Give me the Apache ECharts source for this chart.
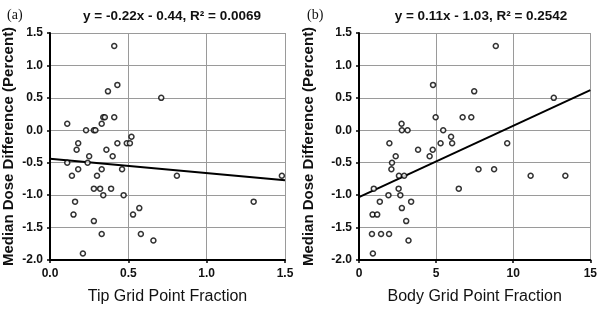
<!DOCTYPE html>
<html>
<head>
<meta charset="utf-8">
<script src="https://cdn.jsdelivr.net/npm/echarts@6/dist/echarts.min.js"></script>
<style>
  html, body { margin: 0; padding: 0; background: #fff; }
  #chart { width: 600px; height: 310px; }
</style>
</head>
<body>
<div id="chart"></div>
<script>
// median dose difference (percent), shared by both panels
var tipX = [0.41, 0.43, 0.37, 0.71, 0.34, 0.35, 0.41, 0.33, 0.11, 0.23, 0.28, 0.29,
            0.52, 0.18, 0.43, 0.49, 0.51, 0.17, 0.36, 0.25, 0.40, 0.11, 0.24, 0.14,
            0.18, 0.33, 0.46, 0.30, 0.81, 1.48, 0.28, 0.32, 0.39, 0.34, 0.47, 0.16,
            1.30, 0.57, 0.15, 0.53, 0.28, 0.33, 0.58, 0.66, 0.21];
var tipY = [1.3, 0.7, 0.6, 0.5, 0.2, 0.2, 0.2, 0.1, 0.1, 0.0, 0.0, 0.0,
            -0.1, -0.2, -0.2, -0.2, -0.2, -0.3, -0.3, -0.4, -0.4, -0.5, -0.5, -0.7,
            -0.6, -0.6, -0.6, -0.7, -0.7, -0.7, -0.9, -0.9, -0.9, -1.0, -1.0, -1.1,
            -1.1, -1.2, -1.3, -1.3, -1.4, -1.6, -1.6, -1.7, -1.9];

var bodyX = [8.87, 4.80, 7.47, 12.63, 4.97, 6.72, 7.28, 2.76, 2.78, 3.15, 5.46, 5.97,
             1.97, 5.29, 6.04, 9.61, 3.83, 4.78, 2.38, 4.58, 2.14, 2.10, 7.75, 8.76,
             2.59, 2.93, 11.13, 13.38, 0.96, 2.57, 6.47, 1.91, 2.68, 1.35, 3.38, 2.78,
             0.88, 1.18, 3.06, 0.84, 1.43, 1.95, 3.21, 0.90];
var bodyY = [1.3, 0.7, 0.6, 0.5, 0.2, 0.2, 0.2, 0.1, 0.0, 0.0, 0.0, -0.1,
             -0.2, -0.2, -0.2, -0.2, -0.3, -0.3, -0.4, -0.4, -0.5, -0.6, -0.6, -0.6,
             -0.7, -0.7, -0.7, -0.7, -0.9, -0.9, -0.9, -1.0, -1.0, -1.1, -1.1, -1.2,
             -1.3, -1.3, -1.4, -1.6, -1.6, -1.6, -1.7, -1.9];

// linear fits as printed on the figure
var tipFit = { slope: -0.22, intercept: -0.44, xMax: 1.5 };
var bodyFit = { slope: 0.11, intercept: -1.03, xMax: 15 };

var titles = ['y = -0.22x - 0.44, R\u00b2 = 0.0069', 'y = 0.11x - 1.03, R\u00b2 = 0.2542'];
var panelTags = ['(a)', '(b)'];
var xNames = ['Tip Grid Point Fraction', 'Body Grid Point Fraction'];
var yName = 'Median Dose Difference (Percent)';

function pairs(xs, ys) {
  var out = [];
  for (var i = 0; i < xs.length; i++) out.push([xs[i], ys[i]]);
  return out;
}
function fitLine(f) {
  return [[0, f.intercept], [f.xMax, f.intercept + f.slope * f.xMax]];
}

var font = 'Liberation Sans, Arial, sans-serif';
var gridLine = { show: true, lineStyle: { color: '#9a9a9a', width: 1, type: 'solid' } };

function xAx(idx, max, interval, fmt) {
  return {
    type: 'value', gridIndex: idx, min: 0, max: max, interval: interval,
    name: xNames[idx], nameLocation: 'middle', nameGap: 29,
    nameTextStyle: { fontFamily: font, fontSize: 16, color: '#111' },
    axisLine: { show: true, onZero: false, lineStyle: { color: '#000', width: 2 } },
    axisTick: { show: true, length: 3, lineStyle: { color: '#000', width: 1.5 } },
    axisLabel: { fontFamily: font, fontSize: 12, fontWeight: 'bold', color: '#111', margin: 8,
                 formatter: fmt },
    splitLine: gridLine
  };
}
function yAx(idx, gap) {
  return {
    type: 'value', gridIndex: idx, min: -2, max: 1.5, interval: 0.5,
    name: yName, nameLocation: 'middle', nameGap: gap,
    nameTextStyle: { fontFamily: font, fontSize: 15, fontWeight: 'bold', color: '#111' },
    axisLine: { show: true, onZero: false, lineStyle: { color: '#000', width: 2 } },
    axisTick: { show: true, length: 3, lineStyle: { color: '#000', width: 1.5 } },
    axisLabel: { fontFamily: font, fontSize: 12, fontWeight: 'bold', color: '#111', margin: 7,
                 formatter: function (v) { return v.toFixed(1); } },
    splitLine: gridLine
  };
}

var pointStyle = { color: '#fff', borderColor: '#000', borderWidth: 1.5 };

var chart = echarts.init(document.getElementById('chart'), null, { renderer: 'canvas' });
chart.setOption({
  animation: false,
  backgroundColor: '#fff',
  title: [
    { text: titles[0], left: 167, top: 4, textAlign: 'center',
      textStyle: { fontFamily: font, fontSize: 13.5, fontWeight: 'bold', color: '#111' } },
    { text: titles[1], left: 476, top: 4, textAlign: 'center',
      textStyle: { fontFamily: font, fontSize: 13.5, fontWeight: 'bold', color: '#111' } },
    { text: panelTags[0], left: 2, top: 3,
      textStyle: { fontFamily: 'Liberation Serif, serif', fontSize: 14, fontWeight: 'normal', color: '#111' } },
    { text: panelTags[1], left: 302, top: 3,
      textStyle: { fontFamily: 'Liberation Serif, serif', fontSize: 14, fontWeight: 'normal', color: '#111' } }
  ],
  grid: [
    { left: 50, right: 315, top: 33, bottom: 47 },
    { left: 359, right: 7, top: 33, bottom: 47 }
  ],
  xAxis: [
    xAx(0, 1.5, 0.5, function (v) { return v.toFixed(1); }),
    xAx(1, 15, 5, function (v) { return String(v); })
  ],
  yAxis: [yAx(0, 34), yAx(1, 43)],
  series: [
    { type: 'line', xAxisIndex: 0, yAxisIndex: 0, data: fitLine(tipFit), showSymbol: false,
      lineStyle: { color: '#000', width: 2 }, z: 3 },
    { type: 'line', xAxisIndex: 1, yAxisIndex: 1, data: fitLine(bodyFit), showSymbol: false,
      lineStyle: { color: '#000', width: 2 }, z: 3 },
    { type: 'scatter', xAxisIndex: 0, yAxisIndex: 0, data: pairs(tipX, tipY),
      symbol: 'circle', symbolSize: 5, itemStyle: pointStyle, z: 4 },
    { type: 'scatter', xAxisIndex: 1, yAxisIndex: 1, data: pairs(bodyX, bodyY),
      symbol: 'circle', symbolSize: 5, itemStyle: pointStyle, z: 4 }
  ]
});
</script>
</body>
</html>
